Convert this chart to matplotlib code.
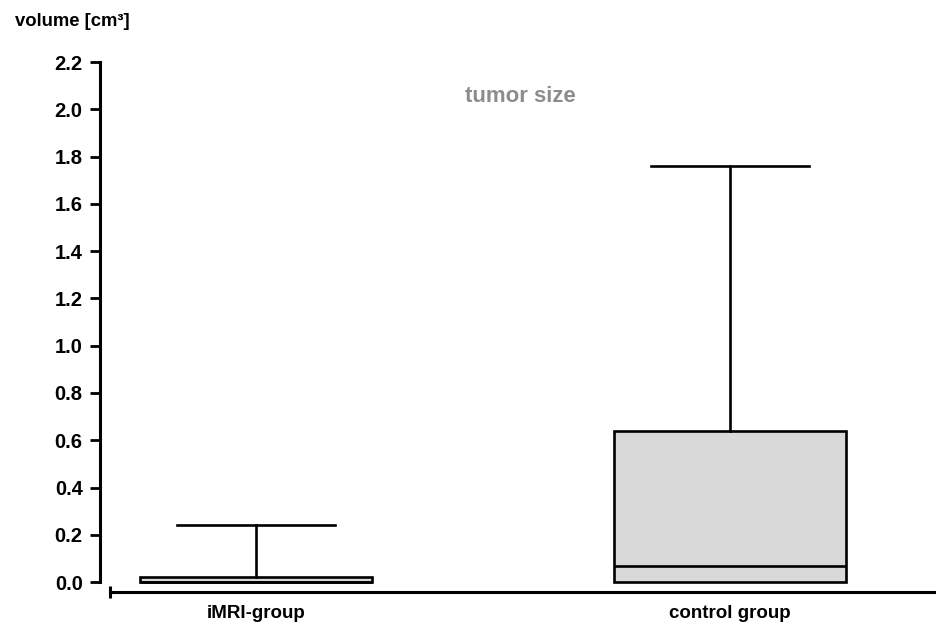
import numpy as np
import matplotlib.pyplot as plt

plt.rcParams['font.family'] = ['Liberation Sans', 'DejaVu Sans']
plt.rcParams['font.weight'] = 'bold'

groups = ["iMRI-group", "control group"]
q1 = [0.0, 0.0]
med = [0.0, 0.07]
q3 = [0.02, 0.64]
whislo = [0.0, 0.0]
whishi = [0.24, 1.76]
yticks = [0.0, 0.2, 0.4, 0.6, 0.8, 1.0, 1.2, 1.4, 1.6, 1.8, 2.0, 2.2]

stats = []
for i in range(len(groups)):
    stats.append(dict(label=groups[i], q1=q1[i], med=med[i], q3=q3[i],
                      whislo=whislo[i], whishi=whishi[i], fliers=[]))

fig = plt.figure(figsize=(9.37, 6.23), dpi=100)
ax = fig.add_axes([110/937, 31/623, 827/937, 530/623])

lw = 1.9
ax.bxp(stats, positions=[1, 2], widths=0.49, capwidths=0.335, patch_artist=True,
       showfliers=False,
       boxprops=dict(facecolor='#d9d9d9', edgecolor='black', linewidth=lw),
       medianprops=dict(color='black', linewidth=lw),
       whiskerprops=dict(color='black', linewidth=lw),
       capprops=dict(color='black', linewidth=lw))

# no lower caps in the reference
for cap in ax.lines:
    yd = cap.get_ydata()
    if len(yd) == 2 and yd[0] == yd[1] == 0.0 and cap.get_xdata()[1] - cap.get_xdata()[0] < 0.4:
        cap.set_visible(False)

ax.set_xlim(0.692, 2.437)
ax.set_ylim(-0.042, 2.2)

for s in ['top', 'right']:
    ax.spines[s].set_visible(False)
ax.spines['left'].set_position(('outward', 7.2))
ax.spines['left'].set_bounds(0, 2.2)
ax.spines['left'].set_linewidth(2.2)
ax.spines['bottom'].set_linewidth(2.2)

ax.set_yticks(yticks)
ax.set_yticklabels(["%.1f" % v for v in yticks], fontsize=14.5, fontweight='bold')
ax.tick_params(axis='y', direction='out', length=7.5, width=2, pad=5)
ax.set_xticks([1, 2])
ax.set_xticklabels(groups, fontsize=13.5, fontweight='bold')
ax.tick_params(axis='x', length=0, pad=9.5)

# little end tick on the left of the x axis
ax.plot([0], [0], transform=ax.transAxes, marker='|', markersize=8,
        markeredgewidth=2.2, color='black', clip_on=False)

fig.text(15/937, 1 - 26/623, "volume [cm³]", fontsize=13.3, fontweight='bold',
         ha='left', va='baseline')
fig.text(520/937, 1 - 97/623, "tumor size", fontsize=16, fontweight='bold',
         color='#8c8c8c', ha='center', va='center')

fig.savefig("out.png", dpi=100)
